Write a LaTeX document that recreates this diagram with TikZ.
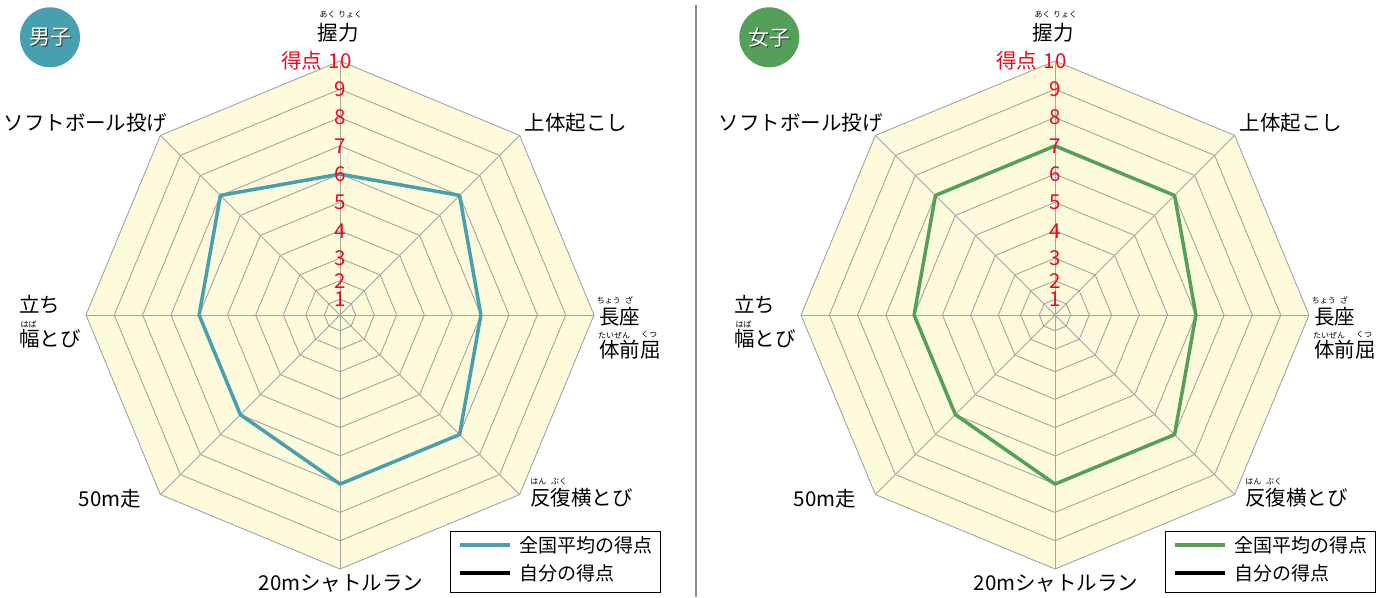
\documentclass[tikz,border=0pt]{standalone}
\usepackage{fontspec}
\setmainfont{Noto Sans CJK JP}
\usepackage{tikz}
\usetikzlibrary{positioning}

\definecolor{gridfill}{HTML}{FEFBDC}
\definecolor{gridline}{HTML}{A4A4A4}
\definecolor{boysline}{HTML}{48A0AE}
\definecolor{girlsline}{HTML}{55A058}
\definecolor{scorered}{HTML}{EE0A1E}
\definecolor{divider}{HTML}{8C8C8C}

% radius of the rings 0..10 (inner rings are closer)
\def\ringr{{0,15.7,34.3,56.7,84.3,112.6,140.9,169.1,197.4,225.7,254}}
\def\boysavg{{6,7,6,7,7,6,6,7}}
\def\girlsavg{{7,7,6,7,7,6,6,7}}

\begin{document}
\begin{tikzpicture}[x=1pt,y=1pt,
    grid/.style={gridline,line width=0.9pt},
    avgline/.style={line width=3.5pt,line join=round},
    axislabel/.style={inner sep=0pt,font=\fontsize{20.5}{21}\selectfont},
    ruby/.style={inner sep=0pt,font=\fontsize{8}{8}\selectfont},
    scorenum/.style={inner sep=0pt,text=scorered,font=\fontsize{20.5}{21}\selectfont},
    badge/.style={circle,minimum size=60pt,inner sep=0pt,text=white,font=\fontsize{21}{21}\selectfont},
    badgeshadow/.style={inner sep=0pt,text=black!80,font=\fontsize{21}{21}\selectfont},
    legendbox/.style={draw=black,line width=0.8pt,minimum width=210pt,minimum height=60pt,inner sep=0pt},
    legendtext/.style={inner sep=0pt,font=\fontsize{19}{19}\selectfont}]
  \useasboundingbox (0,0) rectangle (1376,597);

  % web
  \foreach \cx in {340,1055}{
    \begin{scope}[shift={(\cx,282)}]
      \fill[gridfill] (90:254) \foreach \a in {45,0,...,-225}{ -- (\a:254)} -- cycle;
      \foreach \k in {1,...,10}{
        \pgfmathsetmacro\r{\ringr[\k]}
        \draw[grid] (90:\r) \foreach \a in {45,0,...,-225}{ -- (\a:\r)} -- cycle;
      }
      \foreach \a in {90,45,...,-225} \draw[grid] (0,0) -- (\a:254);
    \end{scope}
  }

  % national averages
  \foreach \cx/\tag/\col/\scores in {340/b/boysline/\boysavg,1055/g/girlsline/\girlsavg}{
    \begin{scope}[shift={(\cx,282)}]
      \foreach \i in {0,...,7}{
        \pgfmathtruncatemacro\s{\scores[\i]}
        \pgfmathsetmacro\r{\ringr[\s]}
        \coordinate (avg-\tag\i) at ({90-45*\i}:\r);
      }
      \draw[\col,avgline] (avg-\tag0) \foreach \i in {1,...,7}{ -- (avg-\tag\i)} -- cycle;
    \end{scope}
  }

  % labels
  \foreach \cx/\tag/\col in {340/b/boysline,1055/g/girlsline}{
    \foreach \k in {1,...,10}{
      \pgfmathsetmacro\r{\ringr[\k]}
      \node[scorenum] (num-\tag\k) at (\cx,282+\r) {\k};
    }
    \node[scorenum,left=6pt of num-\tag10] (pts-\tag) {得点};

    \node[axislabel] (grip-\tag) at (\cx-2,564) {握力};
    \node[ruby] at ([xshift=-10.5pt,yshift=18pt]grip-\tag.center) {あく};
    \node[ruby] at ([xshift=12pt,yshift=18pt]grip-\tag.center) {りょく};

    \node[axislabel] (situp-\tag) at (\cx+236,474) {上体起こし};

    \node[axislabel,anchor=west] (sit-\tag) at (\cx+259,280.3) {長座};
    \node[ruby] at ([xshift=9.8pt,yshift=16pt]sit-\tag.west) {ちょう};
    \node[ruby] at ([xshift=30pt,yshift=16pt]sit-\tag.west) {ざ};
    \node[axislabel,anchor=west] (reach-\tag) at (\cx+259,247) {体前屈};
    \node[ruby] at ([xshift=7pt,yshift=15pt]reach-\tag.west) {たい};
    \node[ruby] at ([xshift=23pt,yshift=15pt]reach-\tag.west) {ぜん};
    \node[ruby] at ([xshift=50pt,yshift=15pt]reach-\tag.west) {くつ};

    \node[axislabel,anchor=west] (sidestep-\tag) at (\cx+190,99.7) {反復横とび};
    \node[ruby] at ([xshift=8.3pt,yshift=15.6pt]sidestep-\tag.west) {はん};
    \node[ruby] at ([xshift=29pt,yshift=15.6pt]sidestep-\tag.west) {ぶく};

    \node[axislabel] (shuttle-\tag) at (\cx+1,13.7) {20mシャトルラン};
    \node[axislabel] (dash-\tag) at (\cx-230,98.7) {50m走};

    \node[axislabel,anchor=west] (stand-\tag) at (\cx-321,292) {立ち};
    \node[axislabel,anchor=west] (jump-\tag) at (\cx-321,258) {幅とび};
    \node[ruby] at ([xshift=9.7pt,yshift=15pt]jump-\tag.west) {はば};

    \node[axislabel] (throw-\tag) at (\cx-254.5,474) {ソフトボール投げ};

    % legend
    \node[legendbox,anchor=south west] (legend-\tag) at (\cx+110,4.7) {};
    \coordinate (leg-\tag-a1) at ([xshift=10pt,yshift=-13.4pt]legend-\tag.north west);
    \coordinate (leg-\tag-a2) at ([xshift=60pt,yshift=-13.4pt]legend-\tag.north west);
    \coordinate (leg-\tag-o1) at ([xshift=10pt,yshift=-41.7pt]legend-\tag.north west);
    \coordinate (leg-\tag-o2) at ([xshift=60pt,yshift=-41.7pt]legend-\tag.north west);
    \draw[\col,line width=3.5pt] (leg-\tag-a1) -- (leg-\tag-a2);
    \draw[black,line width=3.5pt] (leg-\tag-o1) -- (leg-\tag-o2);
    \node[legendtext,right=9pt of leg-\tag-a2] (legavg-\tag) {全国平均の得点};
    \node[legendtext,right=9pt of leg-\tag-o2] (legown-\tag) {自分の得点};
  }

  % badges
  \node[badge,fill=boysline] (badge-b) at (50,559.7) {};
  \node[badgeshadow] at ([xshift=1pt,yshift=-1pt]badge-b.center) {男子};
  \node[badgeshadow,text=white] (badgetext-b) at (badge-b.center) {男子};
  \node[badge,fill=girlsline] (badge-g) at (769.3,559.7) {};
  \node[badgeshadow] at ([xshift=1pt,yshift=-1pt]badge-g.center) {女子};
  \node[badgeshadow,text=white] (badgetext-g) at (badge-g.center) {女子};

  % divider
  \coordinate (div-top) at (696,592);
  \coordinate (div-bot) at (696,0);
  \draw[divider,line width=1.5pt] (div-top) -- (div-bot);
\end{tikzpicture}
\end{document}
